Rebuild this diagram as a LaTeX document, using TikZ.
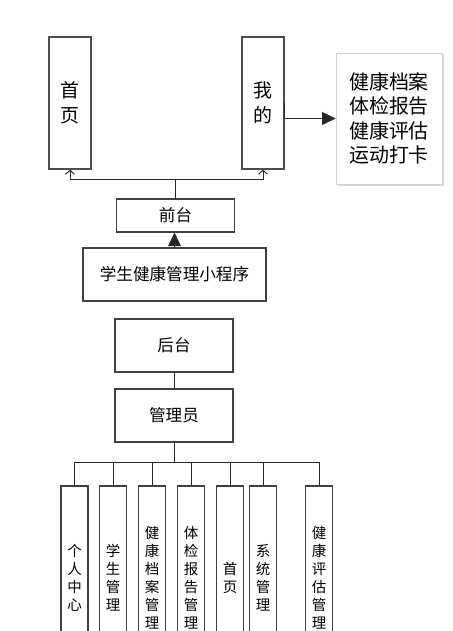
\documentclass[tikz,border=0pt]{standalone}
\usepackage{fontspec}
\setmainfont{Noto Sans CJK SC}
\usetikzlibrary{arrows.meta,shadows}
\begin{document}
\begin{tikzpicture}[x=0.025cm, y=-0.025cm,
    page/.style={rectangle, draw=black!70, line width=0.8pt,
      minimum width=1.05cm, minimum height=3.3cm, align=center,
      font=\fontsize{13.5}{17.7}\selectfont},
    info/.style={rectangle, draw=black!18, fill=white,
      drop shadow={shadow xshift=1.2pt, shadow yshift=-1.2pt, fill=black!30},
      minimum width=2.65cm, minimum height=3.275cm, align=center,
      font=\fontsize{14.2}{17.4}\selectfont},
    module/.style={rectangle, draw=black!75, line width=0.8pt,
      minimum width=2.95cm, minimum height=1.325cm, align=center,
      font=\fontsize{11.8}{14}\selectfont},
    func/.style={rectangle, draw=black!75, line width=0.8pt,
      minimum width=0.675cm, minimum height=4.6cm, inner sep=1pt,
      align=center, font=\fontsize{10.3}{12.8}\selectfont},
    line/.style={draw=black!85, line width=0.7pt},
    openhead/.style={-{Straight Barb[length=0.1cm, width=0.22cm]}},
    fullhead/.style={-{Triangle[length=0.34cm, width=0.32cm]}}
  ]
    \useasboundingbox (0,0) rectangle (453,631);
    \clip (0,0) rectangle (453,631);

    % 前台页面
    \node[page] (shouye) at (70, 103) {首\\页};
    \node[page] (wode) at (263, 103) {我\\的};
    \node[info] (mine) at (389, 118.5) {健康档案\\体检报告\\健康评估\\运动打卡};

    % 系统
    \node[module, minimum height=0.825cm] (qiantai) at (175.5, 215.5) {前台};
    \node[module, minimum width=4.575cm] (xcx) at (174.5, 274.5) {学生健康管理小程序};
    \node[module] (houtai) at (174, 345.5) {后台};
    \node[module] (admin) at (174, 415.5) {管理员};

    % 管理功能
    \node[func] (f1) at (74.5, 578) {个\\人\\中\\心};
    \node[func] (f2) at (113, 578) {学\\生\\管\\理};
    \node[func] (f3) at (152, 578) {健\\康\\档\\案\\管\\理};
    \node[func] (f4) at (191, 578) {体\\检\\报\\告\\管\\理};
    \node[func] (f5) at (230, 578) {首\\页};
    \node[func] (f6) at (263, 578) {系\\统\\管\\理};
    \node[func] (f7) at (319, 578) {健\\康\\评\\估\\管\\理};

    % 连线
    \coordinate (topbus) at (175.5, 179);
    \coordinate (admbus) at (174, 462);
    \draw[line] (qiantai.north) -- (topbus);
    \foreach \n in {shouye, wode}
      \draw[line, openhead] (topbus) -| (\n.south);
    \draw[line, fullhead] (wode.east) |- (mine.west);
    \draw[line, fullhead] (xcx.north) -- (xcx.north |- qiantai.south);
    \draw[line] (houtai) -- (admin);
    \draw[line] (admin.south) -- (admbus);
    \foreach \n in {f1, f2, f3, f4, f5, f6, f7}
      \draw[line] (admbus) -| (\n.north);
  \end{tikzpicture}
\end{document}
